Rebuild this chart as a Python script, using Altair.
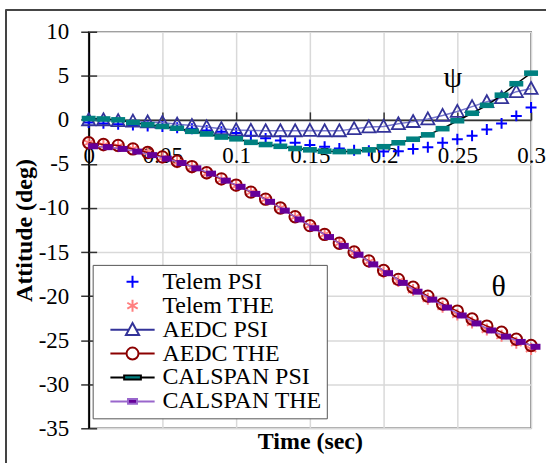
import altair as alt
import pandas as pd

SERIF = "Liberation Serif"

# ---------------- data ----------------
T = [0.00, 0.01, 0.02, 0.03, 0.04, 0.05, 0.06, 0.07, 0.08, 0.09, 0.10,
     0.11, 0.12, 0.13, 0.14, 0.15, 0.16, 0.17, 0.18, 0.19, 0.20,
     0.21, 0.22, 0.23, 0.24, 0.25, 0.26, 0.27, 0.28, 0.29, 0.30]
T_CAL_THE = [0.003, 0.013, 0.023, 0.033, 0.043, 0.053, 0.063, 0.073, 0.083, 0.093, 0.103,
             0.113, 0.123, 0.133, 0.143, 0.153, 0.163, 0.173, 0.183, 0.193, 0.203,
             0.213, 0.223, 0.233, 0.243, 0.253, 0.263, 0.273, 0.283, 0.293, 0.303]

TELEM_PSI = [-0.3, -0.4, -0.5, -0.6, -0.7, -0.75, -0.9, -1.0, -1.2, -1.35, -1.5,
             -1.8, -2.1, -2.35, -2.6, -2.85, -3.05, -3.25, -3.45, -3.5, -3.6,
             -3.55, -3.3, -3.1, -2.6, -2.2, -1.8, -1.1, -0.4, 0.45, 1.4]
TELEM_THE = [-2.6, -2.9, -3.0, -3.3, -3.7, -4.3, -4.8, -5.4, -6.1, -6.8, -7.5,
             -8.2, -9.0, -10.0, -11.0, -12.0, -13.0, -14.0, -15.1, -16.1, -17.3,
             -18.3, -19.3, -20.3, -21.2, -22.1, -23.0, -23.8, -24.5, -25.3, -26.0]
AEDC_PSI = [0.0, 0.0, -0.1, -0.15, -0.25, -0.3, -0.5, -0.65, -0.8, -1.0, -1.15,
            -1.2, -1.25, -1.25, -1.25, -1.2, -1.25, -1.25, -1.0, -0.8, -0.75,
            -0.45, -0.2, 0.1, 0.5, 0.95, 1.5, 2.05, 2.5, 3.2, 3.55]
AEDC_THE = [-2.6, -2.8, -2.9, -3.3, -3.7, -4.2, -4.7, -5.3, -6.0, -6.7, -7.4,
            -8.2, -9.0, -10.0, -11.0, -12.0, -13.0, -14.0, -15.0, -16.0, -17.1,
            -18.1, -19.0, -20.0, -20.9, -21.7, -22.6, -23.4, -24.1, -24.9, -25.6]
CAL_PSI = [0.15, 0.1, 0.0, -0.3, -0.55, -0.75, -0.95, -1.3, -1.6, -1.95, -2.15,
           -2.55, -2.8, -3.0, -3.25, -3.4, -3.55, -3.6, -3.6, -3.4, -3.05,
           -2.6, -2.2, -1.7, -1.0, -0.1, 0.75, 1.65, 2.8, 4.1, 5.3]
CAL_THE = [-3.0, -3.1, -3.3, -3.6, -4.0, -4.4, -4.9, -5.5, -6.1, -6.9, -7.6,
           -8.4, -9.3, -10.3, -11.3, -12.3, -13.3, -14.3, -15.3, -16.4, -17.4,
           -18.5, -19.5, -20.4, -21.3, -22.2, -23.1, -23.9, -24.6, -25.2, -25.75]

SERIES = ["Telem PSI", "Telem THE", "AEDC PSI", "AEDC THE", "CALSPAN PSI", "CALSPAN THE"]
X_TICKS = [0, 0.05, 0.1, 0.15, 0.2, 0.25, 0.3]
Y_TICKS = [-35, -30, -25, -20, -15, -10, -5, 0, 5, 10]
ANNOT_TEXT = ["ψ", "θ"]
ANNOT_T = [0.247, 0.278]
ANNOT_V = [4.8, -19.0]

# ---------------- styles ----------------
W, H = 444, 398
ZERO_Y = H * 10 / 45
HYPHEN_EXPR = "replace(datum.label, '\u2212', '-')"

LEG_PATHS = [
    "M-1,0H1M0,-1V1",
    "M0,-1V1M-0.87,-0.5L0.87,0.5M-0.87,0.5L0.87,-0.5",
    "M-3.7,0H-0.6M0.6,0H3.7M0,-1.1L1.1,0.9H-1.1Z",
    "M-3.7,0H-1M1,0H3.7M-1,0A1,1 0 1,0 1,0A1,1 0 1,0 -1,0Z",
    "M-3.7,0H-1.4M1.4,0H3.7M-1.4,-0.35H1.4V0.35H-1.4Z",
    "M-3.7,0H-0.75M0.75,0H3.7M-0.75,-0.4H0.75V0.4H-0.75Z",
]
LEG_FILL = ["white", "white", "white", "white", "#008080", "#660099"]
LEG_STROKE = ["#0000FF", "#FF7F7F", "#333399", "#8B0000", "#000000", "#9966CC"]

PLUS = "M-1,0H1M0,-1V1"
AST = "M0,-1V1M-0.87,-0.5L0.87,0.5M-0.87,0.5L0.87,-0.5"
TRI = "M0,-1.1L1.1,0.9H-1.1Z"
TEAL_BAR = "M-1,-0.4H1V0.4H-1Z"
PURP_BAR = "M-1,-0.6H1V0.6H-1Z"

xs = alt.Scale(domain=[0, 0.3], nice=False, zero=False)
ys = alt.Scale(domain=[-35, 10], nice=False, zero=False)


def df(ts, vs):
    return pd.DataFrame({"t": ts, "v": vs})


def enc(xaxis=None, yaxis=None):
    return dict(x=alt.X("t:Q", scale=xs, axis=xaxis), y=alt.Y("v:Q", scale=ys, axis=yaxis))


ax_x_main = alt.Axis(orient="bottom", grid=True, gridColor="#D9D9D9", gridWidth=1.5,
                     labels=False, ticks=False, domain=False, values=X_TICKS,
                     title="Time (sec)", titleFont=SERIF, titleFontSize=24,
                     titleFontWeight="bold", titleColor="black", titlePadding=1)
ax_y_main = alt.Axis(orient="left", grid=True, gridColor="#D9D9D9", gridWidth=1.5,
                     values=Y_TICKS, labelFont=SERIF, labelFontSize=23, labelColor="black",
                     labelPadding=12, tickSize=8, tickColor="#333333", tickWidth=1.5,
                     domain=True, domainColor="black", domainWidth=2, labelFlush=False,
                     labelExpr=HYPHEN_EXPR,
                     title="Attitude (deg)", titleFont=SERIF, titleFontSize=24,
                     titleFontWeight="bold", titleColor="black", titlePadding=2)
ax_x_top = alt.Axis(orient="top", offset=-ZERO_Y, values=X_TICKS, labels=False, grid=False,
                    ticks=True, tickSize=8, tickColor="#333333", tickWidth=1.5,
                    domain=True, domainColor="#333333", domainWidth=1.8, title=None)
ax_y_right = alt.Axis(orient="right", offset=-W, values=Y_TICKS, labels=False, grid=False,
                      ticks=True, tickSize=8, tickColor="#333333", tickWidth=1.5,
                      domain=False, title=None)
ax_x_labels = alt.Axis(orient="bottom", offset=-(H - ZERO_Y), values=X_TICKS, labels=True,
                       labelFont=SERIF, labelFontSize=23, labelColor="black", labelPadding=25,
                       ticks=False, tickSize=0, domain=False, grid=False, title=None,
                       labelFlush=False, labelOverlap=False, format="~g")

layers = []
# Telem PSI
layers.append(alt.Chart(df(T, TELEM_PSI)).mark_point(
    shape=PLUS, size=121, color="#0000FF", strokeWidth=2, opacity=1
).encode(**enc(ax_x_main, ax_y_main)))
# Telem THE
layers.append(alt.Chart(df(T, TELEM_THE)).mark_point(
    shape=AST, size=144, color="#FF7F7F", strokeWidth=2, opacity=1
).encode(**enc(ax_x_top, ax_y_right)))
# AEDC PSI
layers.append(alt.Chart(df(T, AEDC_PSI)).mark_line(color="#7777CC", strokeWidth=1.5)
              .encode(**enc(ax_x_labels, None)))
layers.append(alt.Chart(df(T, AEDC_PSI)).mark_point(
    shape=TRI, size=144, color="#333399", strokeWidth=1.8, opacity=1
).encode(**enc()))
# AEDC THE
layers.append(alt.Chart(df(T, AEDC_THE)).mark_line(color="#990000", strokeWidth=1.5)
              .encode(**enc()))
layers.append(alt.Chart(df(T, AEDC_THE)).mark_point(
    shape="circle", size=130, color="#8B0000", strokeWidth=2, opacity=1
).encode(**enc()))
# CALSPAN PSI
layers.append(alt.Chart(df(T, CAL_PSI)).mark_line(color="#000000", strokeWidth=1.5)
              .encode(**enc()))
layers.append(alt.Chart(df(T, CAL_PSI)).mark_point(
    shape=TEAL_BAR, size=196, color="#008080", filled=True, opacity=1
).encode(**enc()))
# CALSPAN THE
layers.append(alt.Chart(df(T_CAL_THE, CAL_THE)).mark_line(color="#9966CC", strokeWidth=1.5)
              .encode(**enc()))
layers.append(alt.Chart(df(T_CAL_THE, CAL_THE)).mark_point(
    shape=PURP_BAR, size=100, color="#660099", filled=True, opacity=1
).encode(**enc()))

# annotations
ann = pd.DataFrame({"t": ANNOT_T, "v": ANNOT_V, "txt": ANNOT_TEXT})
layers.append(alt.Chart(ann).mark_text(font=SERIF, fontSize=30, color="black",
                                       baseline="middle", align="center")
              .encode(text="txt:N", **enc()))

# legend carrier (invisible points)
leg = alt.Legend(orient="none", legendX=4, legendY=234, title=None,
                 labelFont=SERIF, labelFontSize=24, labelColor="black", labelLimit=400,
                 symbolSize=144, symbolStrokeWidth=2, symbolOffset=23, labelOffset=18,
                 padding=5, rowPadding=0, strokeColor="#555555", fillColor="white",
                 symbolOpacity=1)
leg_df = pd.DataFrame({"series": SERIES, "t": [T[0]] * 6,
                       "v": [TELEM_PSI[0], TELEM_THE[0], AEDC_PSI[0], AEDC_THE[0], CAL_PSI[0], CAL_THE[0]]})
layers.append(alt.Chart(leg_df).mark_point(opacity=0).encode(
    shape=alt.Shape("series:N", scale=alt.Scale(domain=SERIES, range=LEG_PATHS), legend=leg),
    fill=alt.Fill("series:N", scale=alt.Scale(domain=SERIES, range=LEG_FILL), legend=leg),
    stroke=alt.Stroke("series:N", scale=alt.Scale(domain=SERIES, range=LEG_STROKE), legend=leg),
    **enc()))

# outer frame (decoration)
layers.append(alt.Chart(leg_df).mark_rule(color="#444444", strokeWidth=1.5).encode(
    x=alt.value(-83), x2=alt.value(459), y=alt.value(-22)))
layers.append(alt.Chart(leg_df).mark_rule(color="#444444", strokeWidth=1.5).encode(
    x=alt.value(-83), y=alt.value(-22), y2=alt.value(433)))

chart = alt.layer(*layers).resolve_axis(x="independent", y="independent").properties(
    width=W, height=H, padding={"left": 5, "top": 8, "right": 0, "bottom": 0},
    background="white"
).configure_view(stroke="#666666", strokeWidth=1.5)

chart.save("out.html", embed_options={"renderer": "svg", "actions": False})
